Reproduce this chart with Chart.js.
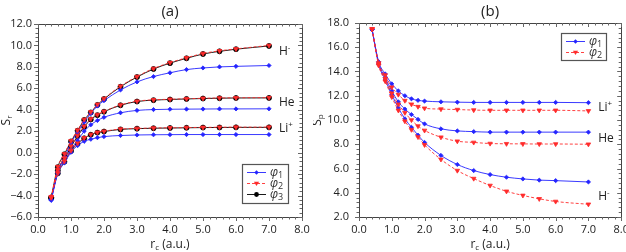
<!DOCTYPE html>
<html>
<head>
<meta charset="utf-8">
<script src="https://cdn.jsdelivr.net/npm/chart.js@4.4.0/dist/chart.umd.min.js"></script>
<style>
body { margin: 0; background: #fff; }
#wrap { position: relative; width: 626px; height: 252px; }
canvas { position: absolute; top: 0; }
#ca { left: 0; }
#cb { left: 313px; }
</style>
</head>
<body>
<div id="wrap">
  <canvas id="ca" width="313" height="252"></canvas>
  <canvas id="cb" width="313" height="252"></canvas>
</div>
<script>
// confinement radius (a.u.)
const rc = [0.4, 0.6, 0.8, 1.0, 1.2, 1.4, 1.6, 1.8, 2.0, 2.5, 3.0, 3.5, 4.0, 4.5, 5.0, 5.5, 6.0, 7.0];

// (a) S_r
const srHPhi1  = [-4.4, -1.8, -0.45, 0.9, 1.9, 2.85, 3.65, 4.35, 4.85, 5.85, 6.6, 7.1, 7.45, 7.75, 7.9, 8.0, 8.05, 8.13];
const srHPhi2  = [-4.15, -1.3, -0.1, 1.1, 2.1, 3.1, 3.8, 4.5, 5.05, 6.2, 7.1, 7.85, 8.4, 8.85, 9.25, 9.5, 9.68, 10.0];
const srHPhi3  = [-4.2, -1.35, -0.15, 1.05, 2.05, 3.05, 3.75, 4.45, 5.0, 6.15, 7.05, 7.8, 8.35, 8.8, 9.2, 9.45, 9.65, 9.95];
const srHePhi1 = [-4.35, -1.75, -0.7, 0.26, 1.13, 2.0, 2.6, 3.0, 3.3, 3.72, 3.94, 4.02, 4.05, 4.06, 4.07, 4.08, 4.08, 4.09];
const srHePhi2 = [-4.2, -1.6, -0.5, 0.6, 1.6, 2.45, 3.15, 3.55, 3.85, 4.45, 4.8, 4.93, 4.98, 5.03, 5.07, 5.1, 5.12, 5.13];
const srHePhi3 = [-4.25, -1.65, -0.55, 0.55, 1.55, 2.4, 3.1, 3.5, 3.82, 4.42, 4.77, 4.9, 4.96, 5.01, 5.05, 5.08, 5.1, 5.11];
const srLiPhi1 = [-4.45, -1.95, -0.95, 0.03, 0.66, 1.06, 1.25, 1.4, 1.5, 1.6, 1.65, 1.67, 1.68, 1.69, 1.69, 1.69, 1.69, 1.69];
const srLiPhi2 = [-4.12, -1.9, -0.8, 0.2, 0.88, 1.38, 1.7, 1.9, 2.0, 2.2, 2.26, 2.3, 2.32, 2.34, 2.36, 2.37, 2.38, 2.38];
const srLiPhi3 = [-4.17, -1.93, -0.85, 0.15, 0.84, 1.34, 1.67, 1.87, 1.97, 2.17, 2.24, 2.28, 2.3, 2.32, 2.34, 2.35, 2.36, 2.36];

// (b) S_p
const spHPhi1  = [17.45, 14.6, 13.3, 12.1, 11.0, 10.1, 9.4, 8.75, 8.15, 7.08, 6.33, 5.83, 5.5, 5.28, 5.14, 5.04, 5.0, 4.89];
const spHPhi2  = [17.5, 14.5, 13.2, 11.9, 10.8, 9.9, 9.2, 8.6, 7.95, 6.75, 5.83, 5.17, 4.6, 4.12, 3.78, 3.5, 3.28, 3.05];
const spHePhi1 = [17.45, 14.7, 13.5, 12.4, 11.5, 10.9, 10.45, 10.05, 9.68, 9.27, 9.1, 9.04, 9.0, 9.0, 9.0, 9.0, 9.0, 9.0];
const spHePhi2 = [17.5, 14.6, 13.4, 12.2, 11.3, 10.6, 10.0, 9.5, 9.14, 8.58, 8.25, 8.15, 8.06, 8.04, 8.03, 8.02, 8.02, 8.0];
const spLiPhi1 = [17.45, 14.8, 13.8, 12.98, 12.4, 12.0, 11.75, 11.62, 11.56, 11.5, 11.47, 11.45, 11.45, 11.45, 11.45, 11.45, 11.45, 11.43];
const spLiPhi2 = [17.5, 14.7, 13.7, 12.7, 12.1, 11.6, 11.3, 11.1, 10.97, 10.9, 10.86, 10.82, 10.8, 10.8, 10.8, 10.8, 10.8, 10.75];

const xTicks = [0, 1, 2, 3, 4, 5, 6, 7, 8];
const yTicksA = [-6, -4, -2, 0, 2, 4, 6, 8, 10, 12];
const yTicksB = [2, 4, 6, 8, 10, 12, 14, 16, 18];

const BLUE = '#2424ff', RED = '#ff2b2b', BLACK = '#000000';
const FONT = '"Open Sans", "DejaVu Sans", sans-serif';

function pts(ys) { return rc.map((x, i) => ({ x: x, y: ys[i] })); }

function phi1(ys) {
  return { data: pts(ys), borderColor: BLUE, backgroundColor: BLUE, borderWidth: 0.9,
    pointStyle: 'rectRot', pointRadius: 2.1, pointBorderWidth: 0.8, order: 1 };
}
function phi2(ys) {
  return { data: pts(ys), borderColor: RED, backgroundColor: RED, borderWidth: 0.9, borderDash: [3, 2],
    pointStyle: 'triangle', pointRotation: 180, pointRadius: 2.6, pointBorderWidth: 0.8, order: 0 };
}
function phi3(ys) {
  return { data: pts(ys), borderColor: BLACK, backgroundColor: BLACK, borderWidth: 0.9,
    pointStyle: 'circle', pointRadius: 2.5, pointBorderWidth: 0.8, order: 2 };
}

function fmt(v) { return v.toFixed(1).replace('-', '\u2212'); }

// text with optional sub/superscript
function richText(ctx, x, y, parts, align) {
  let w = 0;
  parts.forEach(p => { ctx.font = p.font; w += ctx.measureText(p.t).width; });
  let cx = align === 'center' ? x - w / 2 : x;
  parts.forEach(p => {
    ctx.font = p.font;
    ctx.fillText(p.t, cx, y + (p.dy || 0));
    cx += ctx.measureText(p.t).width;
  });
}

function marker(ctx, style, x, y, color) {
  ctx.fillStyle = color; ctx.strokeStyle = color;
  ctx.beginPath();
  if (style === 'rectRot') {
    ctx.moveTo(x, y - 2.2); ctx.lineTo(x + 2.2, y); ctx.lineTo(x, y + 2.2); ctx.lineTo(x - 2.2, y);
  } else if (style === 'triangle') {
    ctx.moveTo(x - 2.6, y - 1.7); ctx.lineTo(x + 2.6, y - 1.7); ctx.lineTo(x, y + 2.6);
  } else {
    ctx.arc(x, y, 2.4, 0, Math.PI * 2);
  }
  ctx.closePath(); ctx.fill();
}

function framePlugin(cfg) {
  return {
    id: 'frame',
    afterDraw(chart) {
      const ctx = chart.ctx, a = chart.chartArea, x = chart.scales.x, y = chart.scales.y;
      ctx.save();
      ctx.strokeStyle = '#444'; ctx.lineWidth = 1;
      ctx.strokeRect(Math.round(a.left) + 0.5, Math.round(a.top) + 0.5,
        Math.round(a.right - a.left), Math.round(a.bottom - a.top));
      ctx.strokeStyle = '#666';
      ctx.beginPath();
      for (let i = 0; i <= 40; i++) {
        const px = Math.round(x.getPixelForValue(i * 0.2)) + 0.5;
        const len = i % 5 === 0 ? 4 : 2.5;
        ctx.moveTo(px, a.bottom); ctx.lineTo(px, a.bottom + len);
        ctx.moveTo(px, a.top); ctx.lineTo(px, a.top + len);
      }
      for (let v = y.min; v <= y.max + 1e-6; v += 0.4) {
        const py = Math.round(y.getPixelForValue(v)) + 0.5;
        const major = Math.abs(v / 2 - Math.round(v / 2)) < 1e-6;
        const len = major ? 4 : 2.5;
        ctx.moveTo(a.left, py); ctx.lineTo(a.left - len, py);
        ctx.moveTo(a.right, py); ctx.lineTo(a.right - len, py);
      }
      ctx.stroke();

      ctx.fillStyle = '#222';
      ctx.textBaseline = 'middle';
      ctx.textAlign = 'left';
      // panel title
      richText(ctx, (a.left + a.right) / 2, 12, [{ t: cfg.title, font: '15px ' + FONT }], 'center');
      // x title
      richText(ctx, (a.left + a.right) / 2, 245, [
        { t: 'r', font: '12px ' + FONT },
        { t: 'c', font: '8px ' + FONT, dy: 3 },
        { t: ' (a.u.)', font: '12px ' + FONT }], 'center');
      // y title
      ctx.save();
      ctx.translate(cfg.yTitleX, (a.top + a.bottom) / 2);
      ctx.rotate(-Math.PI / 2);
      richText(ctx, 0, 0, [
        { t: 'S', font: '12px ' + FONT },
        { t: cfg.ySub, font: '8px ' + FONT, dy: 3 }], 'center');
      ctx.restore();
      // curve labels
      cfg.labels.forEach(l => {
        const lx = x.getPixelForValue(7.3), ly = y.getPixelForValue(l.y);
        const parts = [{ t: l.base, font: '12px ' + FONT }];
        if (l.sup) parts.push({ t: l.sup, font: '8px ' + FONT, dy: -4 });
        richText(ctx, lx, ly, parts, 'left');
      });
      // legend
      const L = cfg.legend;
      ctx.fillStyle = '#fff';
      ctx.fillRect(L.x, L.y, L.w, L.h);
      ctx.strokeStyle = '#555'; ctx.lineWidth = 1.2;
      ctx.strokeRect(L.x + 0.5, L.y + 0.5, L.w, L.h);
      L.items.forEach((it, i) => {
        const yy = L.y + 8.5 + i * 11;
        ctx.strokeStyle = it.color; ctx.lineWidth = 0.9;
        ctx.setLineDash(it.dash || []);
        ctx.beginPath(); ctx.moveTo(L.x + 5, yy); ctx.lineTo(L.x + 24, yy); ctx.stroke();
        ctx.setLineDash([]);
        marker(ctx, it.style, L.x + 14.5, yy, it.color);
        ctx.fillStyle = '#333';
        richText(ctx, L.x + 28, yy, [
          { t: '\u03c6', font: 'italic 12px ' + FONT },
          { t: it.n, font: '9px ' + FONT, dy: 3 }], 'left');
      });
      ctx.restore();
    }
  };
}

function makeChart(id, datasets, yMin, yMax, yTicks, yWidth, yPad, padRight, padTop, cfg) {
  return new Chart(document.getElementById(id), {
    type: 'line',
    data: { datasets: datasets },
    options: {
      responsive: false,
      animation: false,
      layout: { padding: { left: 0, right: padRight, top: padTop, bottom: 0 } },
      plugins: { legend: { display: false }, tooltip: { enabled: false } },
      elements: { line: { cubicInterpolationMode: 'monotone' } },
      scales: {
        x: {
          type: 'linear', min: 0, max: 8,
          grid: { display: false, drawTicks: false }, border: { display: false },
          afterBuildTicks: s => { s.ticks = xTicks.map(v => ({ value: v })); },
          ticks: { autoSkip: false, maxRotation: 0, padding: 6, color: '#222',
            font: { family: FONT, size: 11 }, callback: v => fmt(v) },
          afterFit: s => { s.height = 35; s.paddingLeft = 0; s.paddingRight = 0; }
        },
        y: {
          type: 'linear', min: yMin, max: yMax,
          grid: { display: false, drawTicks: false }, border: { display: false },
          afterBuildTicks: s => { s.ticks = yTicks.map(v => ({ value: v })); },
          ticks: { autoSkip: false, padding: yPad, color: '#222',
            font: { family: FONT, size: 11 }, callback: v => fmt(v) },
          afterFit: s => { s.width = yWidth; s.paddingTop = 0; s.paddingBottom = 0; }
        }
      }
    },
    plugins: [framePlugin(cfg)]
  });
}

makeChart('ca', [
  phi1(srHPhi1), phi3(srHPhi3), phi2(srHPhi2),
  phi1(srHePhi1), phi3(srHePhi3), phi2(srHePhi2),
  phi1(srLiPhi1), phi3(srLiPhi3), phi2(srLiPhi2)
], -6, 12, yTicksA, 38, 6, 11, 24, {
  title: '(a)', ySub: 'r', yTitleX: 7,
  labels: [{ base: 'H', sup: '-', y: 9.4 }, { base: 'He', y: 4.7 }, { base: 'Li', sup: '+', y: 2.25 }],
  legend: { x: 242, y: 164, w: 46, h: 39, items: [
    { n: '1', color: BLUE, style: 'rectRot' },
    { n: '2', color: RED, style: 'triangle', dash: [3, 2] },
    { n: '3', color: BLACK, style: 'circle' }] }
});

makeChart('cb', [
  phi1(spHPhi1), phi2(spHPhi2),
  phi1(spHePhi1), phi2(spHePhi2),
  phi1(spLiPhi1), phi2(spLiPhi2)
], 2, 18, yTicksB, 46, 10, 3, 23, {
  title: '(b)', ySub: 'p', yTitleX: 5,
  labels: [{ base: 'Li', sup: '+', y: 11.0 }, { base: 'He', y: 8.5 }, { base: 'H', sup: '-', y: 3.65 }],
  legend: { x: 248, y: 33, w: 45, h: 27, items: [
    { n: '1', color: BLUE, style: 'rectRot' },
    { n: '2', color: RED, style: 'triangle', dash: [3, 2] }] }
});
</script>
</body>
</html>
